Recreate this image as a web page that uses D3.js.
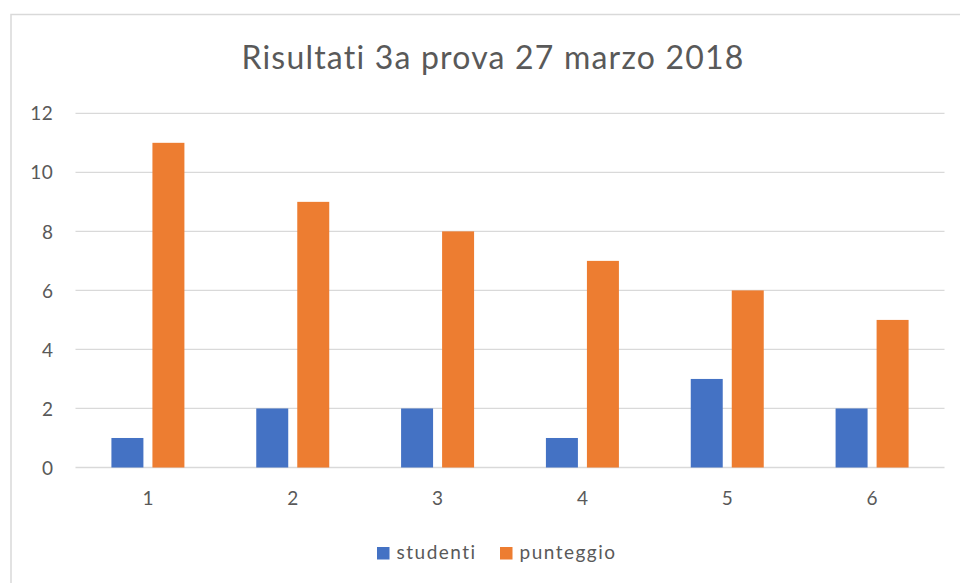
<!DOCTYPE html>
<html><head><meta charset="utf-8">
<script src="https://cdn.jsdelivr.net/npm/d3@7"></script>
<style>body{margin:0;background:#fff;} svg{display:block;}</style>
</head><body>
<svg id="chart" width="960" height="583"></svg>
<script>
const title = "Risultati 3a prova 27 marzo 2018";
const categories = ["1","2","3","4","5","6"];
const seriesNames = ["studenti","punteggio"];
const studenti = [1,2,2,1,3,2];
const punteggio = [11,9,8,7,6,5];
const yTicks = [0,2,4,6,8,10,12];
const colors = ["#4472C4","#ED7D31"];

(function(){
const svg = d3.select("#chart");
const font = "Lato, 'Open Sans', sans-serif";
const textColor = "#595959";

svg.append("rect").attr("x",11).attr("y",14.5).attr("width",960).attr("height",600)
  .attr("fill","#fff").attr("stroke","#d9d9d9").attr("stroke-width",1.5);

const pLeft = 75.5, pRight = 944.5, pTop = 113.3, pBottom = 467.5;
const x0 = d3.scaleBand().domain(categories).range([pLeft,pRight]).paddingInner(0.496).paddingOuter(0.248);
const x1 = d3.scaleBand().domain(seriesNames).range([0,x0.bandwidth()]).paddingInner(0.22).paddingOuter(0);
const y = d3.scaleLinear().domain([0,12]).range([pBottom,pTop]);

svg.append("g").selectAll("line").data(yTicks).join("line")
  .attr("x1",pLeft).attr("x2",pRight)
  .attr("y1",d=>y(d)).attr("y2",d=>y(d))
  .attr("stroke","#d9d9d9").attr("stroke-width",1.3);

const yAxis = d3.axisLeft(y).tickValues(yTicks).tickSize(0).tickPadding(0);
const ya = svg.append("g").attr("transform",`translate(53.5,0)`).call(yAxis);
ya.select(".domain").remove();
ya.selectAll("text").attr("font-family",font).attr("font-size",19).attr("letter-spacing",0.6)
  .attr("fill",textColor).attr("dy","0.35em");

const xAxis = d3.axisBottom(x0).tickSize(0).tickPadding(0);
const xa = svg.append("g").attr("transform",`translate(0,${pBottom})`).call(xAxis);
xa.select(".domain").remove();
xa.selectAll("text").attr("font-family",font).attr("font-size",19).attr("fill",textColor)
  .attr("y",37.5).attr("dy",0);

const data = categories.map((c,i)=>({cat:c, values:[{k:"studenti",v:studenti[i]},{k:"punteggio",v:punteggio[i]}]}));
const g = svg.append("g").selectAll("g").data(data).join("g").attr("transform",d=>`translate(${x0(d.cat)},0)`);
g.selectAll("rect").data(d=>d.values).join("rect")
  .attr("x",d=>x1(d.k)).attr("width",x1.bandwidth())
  .attr("y",d=>y(d.v)).attr("height",d=>pBottom-y(d.v))
  .attr("fill",(d,i)=>colors[i]);

svg.append("text").attr("x",493).attr("y",69).attr("text-anchor","middle")
  .attr("font-family",font).attr("font-size",32).attr("letter-spacing",1.2)
  .attr("fill",textColor).text(title);

const legendX = [377,500];
const lg = svg.append("g").selectAll("g").data(seriesNames).join("g")
  .attr("transform",(d,i)=>`translate(${legendX[i]},0)`);
lg.append("rect").attr("x",0).attr("y",547).attr("width",12.5).attr("height",12.5).attr("fill",(d,i)=>colors[i]);
lg.append("text").attr("x",19.5).attr("y",558.5).attr("font-family",font).attr("font-size",19)
  .attr("letter-spacing",1.5).attr("fill",textColor).text(d=>d);
})();
</script>
</body></html>
